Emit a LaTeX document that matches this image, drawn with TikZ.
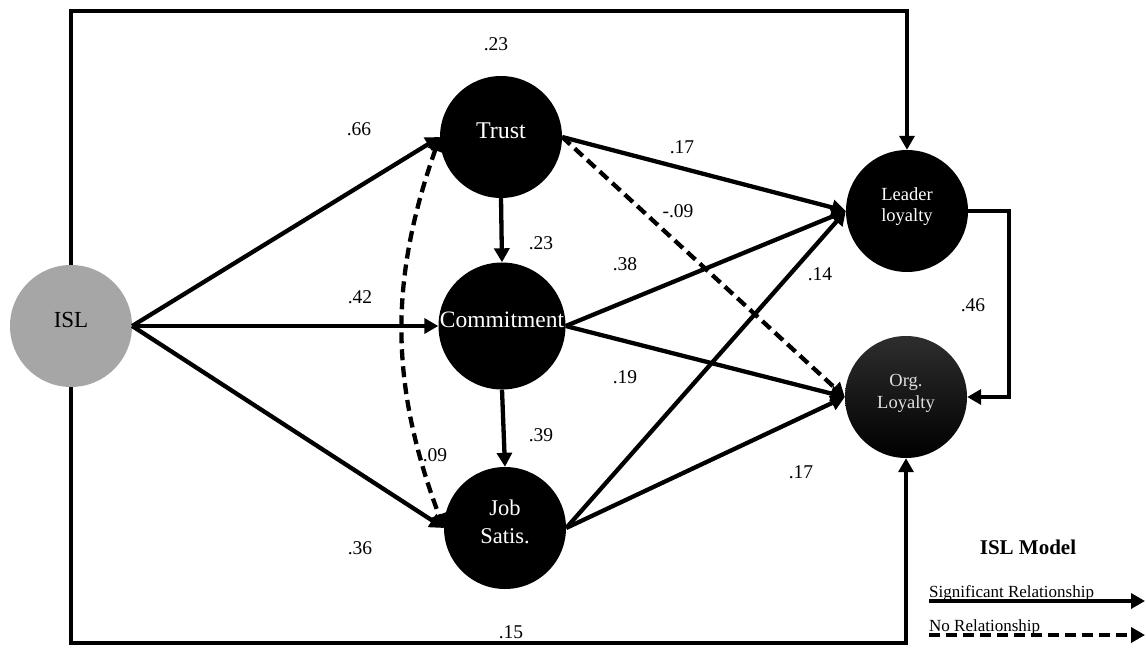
\documentclass[tikz,border=0pt]{standalone}
\usepackage{fontspec}
\setmainfont{Liberation Serif}
\usetikzlibrary{arrows.meta}
\definecolor{islgray}{HTML}{A6A6A6}
\begin{document}
\begin{tikzpicture}[x=1pt,y=-1pt,
  latent/.style={circle, fill=black, minimum size=122pt, inner sep=0pt,
    text=white, align=center, text depth=12pt,
    font=\fontsize{22.5}{28}\selectfont},
  smalllatent/.style={latent, font=\fontsize{18.5}{21}\selectfont},
  headtip/.tip={Triangle[length=14pt,width=15pt]},
  sig/.style={line width=4.3pt, -headtip},
  nonsig/.style={sig, dash pattern=on 11pt off 6pt},
  frameline/.style={line width=4.3pt},
  coef/.style={inner sep=0pt, font=\fontsize{19.5}{22}\selectfont},
  legtext/.style={inner sep=0pt, anchor=base west, font=\fontsize{17}{20}\selectfont},
]
\useasboundingbox (0,0) rectangle (1146,648);

% constructs
\node[latent, fill=islgray, text=black, font=\fontsize{23}{28}\selectfont] (isl) at (71,326) {ISL};
\node[latent, font=\fontsize{24}{28}\selectfont] (trust) at (501,137) {Trust};
\node[latent, font=\fontsize{23.5}{28}\selectfont] (commit) at (502,326) {Commitment};
\node[latent] (job) at (505,528) {Job\\Satis.};
\node[smalllatent] (leader) at (907,211) {Leader\\loyalty};
\node[smalllatent, fill=none, top color=black!82, bottom color=black,
      text=black!12, font=\fontsize{18.5}{22}\selectfont] (org) at (906,397) {Org.\\Loyalty};

% outer frame paths
\coordinate (ftop) at (71,11);
\coordinate (fbot) at (71,643);
\draw[frameline, -headtip] (isl.north) -- (ftop) -| (leader.north);
\draw[frameline, -headtip] (isl.south) -- (fbot) -| (org.south);
\draw[frameline, -headtip] (leader.east) -- ++(41,0) |- (org.east);

% structural paths
\draw[sig] (isl.east) -- (trust.west);
\draw[sig] (isl.east) -- (commit.west);
\draw[sig] (isl.east) -- (job.west);
\draw[sig] (trust.south) -- (commit.north);
\draw[sig] (commit.south) -- (job.north);
\draw[nonsig, headtip-headtip] (trust.west) to[bend right=20] (job.west);
\draw[sig] (trust.east) -- (leader.west);
\draw[nonsig] (trust.east) -- (org.west);
\draw[sig] (commit.east) -- (leader.west);
\draw[sig] (commit.east) -- (org.west);
\draw[sig] (job.east) -- (leader.west);
\draw[sig] (job.east) -- (org.west);

% path coefficients
\node[coef] (c1) at (496,44) {.23};
\node[coef] (c2) at (359,129) {.66};
\node[coef] (c3) at (541,243) {.23};
\node[coef] (c4) at (360,297) {.42};
\node[coef] (c5) at (682,147) {.17};
\node[coef] (c6) at (678,211) {-.09};
\node[coef] (c7) at (625,264) {.38};
\node[coef] (c8) at (820,274) {.14};
\node[coef] (c9) at (973,305) {.46};
\node[coef] (c10) at (625,377) {.19};
\node[coef] (c11) at (801,472) {.17};
\node[coef] (c12) at (541,435) {.39};
\node[coef] (c13) at (435,455) {.09};
\node[coef] (c14) at (360,548) {.36};
\node[coef] (c15) at (511,632) {.15};

% legend
\node[inner sep=0pt, font=\bfseries\fontsize{21}{24}\selectfont] (legtitle) at (1028,547) {ISL Model};
\node[legtext] (legsig) at (929,597) {Significant Relationship};
\node[legtext] (legnon) at (929,631) {No Relationship};
\coordinate (sigA) at (929,601);
\coordinate (sigB) at (1145,601);
\coordinate (nonA) at (929,635);
\coordinate (nonB) at (1145,635);
\draw[sig] (sigA) -- (sigB);
\draw[nonsig] (nonA) -- (nonB);
\end{tikzpicture}
\end{document}
